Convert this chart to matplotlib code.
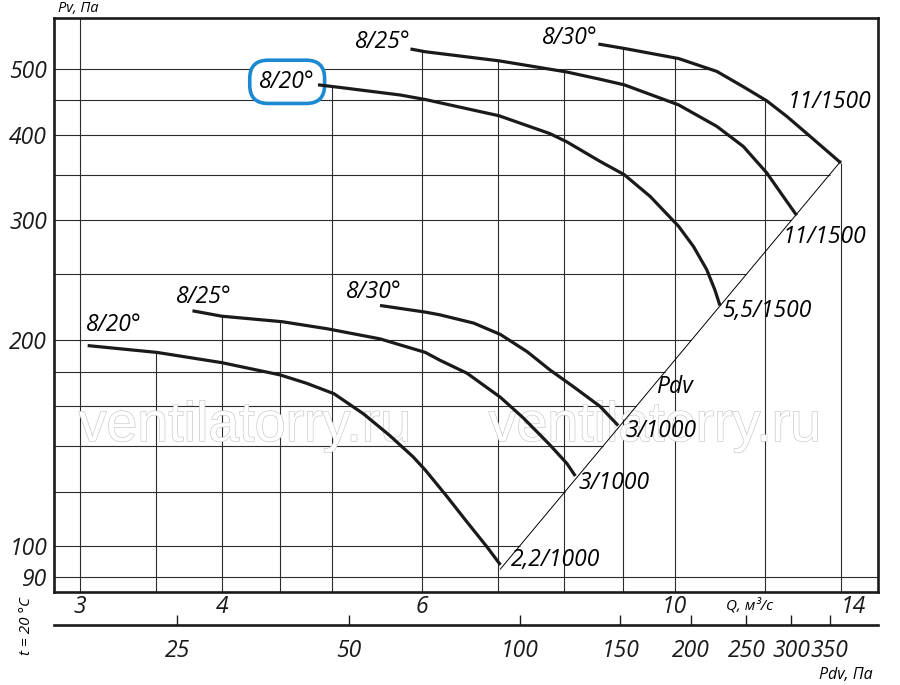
import numpy as np
import matplotlib
matplotlib.use("Agg")
import matplotlib.pyplot as plt
from matplotlib import patheffects as pe
from matplotlib.transforms import ScaledTranslation

# ---------------- data ----------------
# upper group, 1500 rpm
q_top20 = [4.86, 5.02, 5.74, 6.04, 7.01, 7.77, 8.04, 8.60, 9.03, 9.52, 10.08, 10.39, 10.67, 10.85, 10.96]
p_top20 = [474, 471, 458, 451, 427, 402, 391, 366, 350, 325, 294, 274.5, 254, 237, 225]
q_top25 = [5.86, 6.04, 7.01, 8.04, 8.60, 9.03, 10.08, 10.89, 11.49, 12.05, 12.46, 12.80]
p_top25 = [535, 530, 514, 495, 483, 474, 443, 412, 385, 352, 325, 305]
q_top30 = [8.57, 9.03, 10.08, 10.89, 11.49, 12.05, 12.55, 13.16, 14.0]
p_top30 = [544, 536, 518, 496, 471, 449, 426, 398, 364]
# lower group, 1000 rpm
q_low20 = [3.05, 3.51, 4.00, 4.50, 4.75, 5.02, 5.33, 5.62, 5.89, 6.04, 6.31, 6.57, 6.84, 7.03]
p_low20 = [196.5, 192, 185.5, 178, 173, 167, 156, 145, 135, 129, 118, 108.3, 99.6, 93.7]
q_low25 = [3.77, 4.00, 4.52, 4.95, 5.51, 6.04, 6.22, 6.57, 7.03, 7.36, 7.77, 8.04, 8.18]
p_low25 = [221, 217, 213, 208, 201, 192, 187, 179, 165, 154, 140.5, 132, 126.5]
q_low30 = [5.51, 6.04, 6.22, 6.66, 7.03, 7.42, 7.77, 8.15, 8.60, 8.92]
p_low30 = [225, 220, 218, 212, 204, 192.5, 181, 171, 160, 150]

start_labels = ["8/20°", "8/25°", "8/30°", "8/20°", "8/25°", "8/30°"]
end_labels = ["5,5/1500", "11/1500", "11/1500", "2,2/1000", "3/1000", "3/1000"]

# dynamic pressure line Pdv = k*Q^2
pdv_coef = 1.87
pdv_line_q = [7.03, 14.0]
pdv_line_p = [92.4, 366.5]

q_grid = [3, 3.5, 4, 4.5, 5, 6, 7, 8, 9, 10, 12, 14]
p_grid = [90, 100, 120, 140, 160, 180, 200, 250, 300, 350, 400, 450, 500]
q_ticks = [3, 4, 6, 10, 14]
p_ticks = [90, 100, 200, 300, 400, 500]
pdv_ticks = [25, 50, 100, 150, 200, 250, 300, 350]

# ---------------- figure ----------------
plt.rcParams["font.family"] = ["Open Sans", "DejaVu Sans"]
plt.rcParams["font.style"] = "italic"

W, H = 900, 685
fig = plt.figure(figsize=(W / 100, H / 100), dpi=100)
ax = fig.add_axes([54 / W, (H - 592) / H, 824 / W, 574 / H])
ax.set_xscale("log")
ax.set_yscale("log")
XL = (2.849, 15.09)
YL = (85.5, 594)
ax.set_xlim(*XL)
ax.set_ylim(*YL)

curves = [(q_top20, p_top20), (q_top25, p_top25), (q_top30, p_top30),
          (q_low20, p_low20), (q_low25, p_low25), (q_low30, p_low30)]


def loginterp(x, xs, ys):
    return float(np.exp(np.interp(np.log(x), np.log(xs), np.log(ys))))


GRID_C = "#2b2b2b"
# vertical grid lines: from the bottom up to the uppermost curve
for q in q_grid:
    tops = [loginterp(q, qs, ps) for qs, ps in curves if qs[0] <= q <= qs[-1]]
    top = max(tops) if tops else YL[1]
    ax.plot([q, q], [YL[0], top], color=GRID_C, lw=0.8, zorder=1, solid_capstyle="butt")

# horizontal grid lines: from the left up to the Pdv line / outer curve
for p in p_grid:
    if pdv_line_p[0] <= p <= pdv_line_p[1]:
        right = loginterp(p, pdv_line_p, pdv_line_q)
    elif min(p_top30) <= p <= max(p_top30):
        right = loginterp(p, p_top30[::-1], q_top30[::-1])
    else:
        right = XL[1]
    ax.plot([XL[0], right], [p, p], color=GRID_C, lw=0.8, zorder=1, solid_capstyle="butt")

# watermark (inside the axes, under curves and labels)
for xf in ((245 - 54) / 824, (655 - 54) / 824):
    ax.text(xf, (592 - 427) / 574, "ventilatorry.ru", family="Liberation Sans", style="normal",
            fontsize=40, color="white", ha="center", va="center", zorder=2,
            transform=ax.transAxes,
            path_effects=[pe.Stroke(linewidth=0.9, foreground="#c6c6c6"), pe.Normal()])

# Pdv line
ax.plot(pdv_line_q, pdv_line_p, color="black", lw=0.7, zorder=3)

# curves
for qs, ps in curves:
    ax.plot(qs, ps, color="#1a1a1a", lw=2.3, zorder=5, solid_capstyle="butt",
            solid_joinstyle="round")

FS = 16.5
# start labels (offsets in pixels)
start_off = [(-3, 3, "right"), (0, 7, "right"), (-1, 6, "right"),
             (26, 21, "center"), (11, 14, "center"), (-6, 13, "center")]
for (qs, ps), lab, (dx, dy, ha) in zip(curves, start_labels, start_off):
    kw = {}
    if lab == "8/20°" and ps[0] > 300:
        kw["bbox"] = dict(boxstyle="round,pad=0.42,rounding_size=0.8", fc="white",
                          ec="#1b8ad3", lw=2.6)
    ax.annotate(lab, (qs[0], ps[0]), xytext=(dx, dy), textcoords="offset pixels",
                ha=ha, va="center", fontsize=FS, zorder=4, **kw)

end_off = [(2, -6), (-14, -22), (-53, 61), (10, 5), (3, -7), (7, -5)]
for (qs, ps), lab, (dx, dy) in zip(curves, end_labels, end_off):
    ax.annotate(lab, (qs[-1], ps[-1]), xytext=(dx, dy), textcoords="offset pixels",
                ha="left", va="center", fontsize=FS, zorder=6)

ax.text((674 - 54) / 824, (592 - 387) / 574, "Pdv", transform=ax.transAxes,
        ha="center", va="center", fontsize=FS, zorder=6)

# axes styling
for s in ax.spines.values():
    s.set_linewidth(1.9)
    s.set_color("#1a1a1a")
ax.minorticks_off()
ax.set_xticks(q_ticks)
ax.set_xticklabels([str(v) for v in q_ticks])
ax.set_yticks(p_ticks)
ax.set_yticklabels([str(v) for v in p_ticks])
ax.tick_params(axis="both", which="both", length=0, labelsize=FS, colors="#1a1a1a")
ax.tick_params(axis="x", pad=2)
ax.tick_params(axis="y", pad=5)
lab14 = ax.get_xticklabels()[-1]
lab14.set_transform(lab14.get_transform() + ScaledTranslation(0.12, 0, fig.dpi_scale_trans))

# secondary Pdv axis
sec = ax.secondary_xaxis(-33 / 574, functions=(lambda q: pdv_coef * np.asarray(q) ** 2,
                                                lambda p: np.sqrt(np.maximum(np.asarray(p, dtype=float), 1e-9) / pdv_coef)))
sec.minorticks_off()
sec.set_xticks(pdv_ticks)
sec.set_xticklabels([str(v) for v in pdv_ticks])
sec.tick_params(axis="x", which="major", direction="in", length=7, width=1.0,
                labelsize=FS, pad=10, colors="#1a1a1a")
sec.tick_params(axis="x", which="minor", length=0)
sec.spines["bottom"].set_linewidth(1.9)
sec.spines["bottom"].set_color("#1a1a1a")

# axis titles
fig.text(78 / W, 1 - 9 / H, "Pv, Па", fontsize=10.5, ha="center", va="center")
fig.text(749 / W, 1 - 606 / H, "Q, м³/с", fontsize=11, ha="center", va="center")
fig.text(846 / W, 1 - 675 / H, "Pdv, Па", fontsize=11.5, ha="center", va="center")
fig.text(27 / W, 1 - 626 / H, "t = 20 °C", fontsize=11, ha="center", va="center", rotation=90)

fig.savefig("out.png", dpi=100, facecolor="white")
